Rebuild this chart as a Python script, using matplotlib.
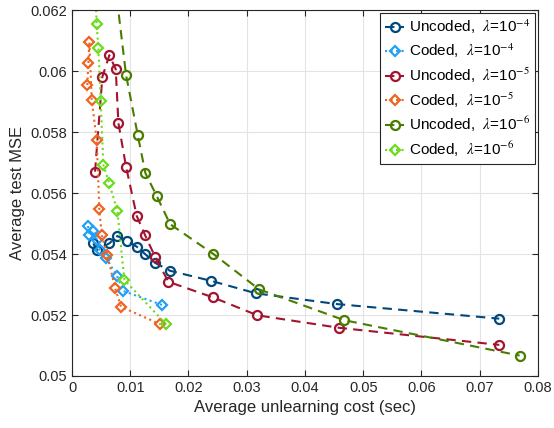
import numpy as np
import matplotlib
matplotlib.use('Agg')
import matplotlib.pyplot as plt

plt.rcParams['font.family'] = ['Liberation Sans', 'DejaVu Sans']
plt.rcParams['mathtext.fontset'] = 'stix'

# Uncoded, lambda = 1e-4
unc4_x = [0.00366, 0.00424, 0.00641, 0.00779, 0.0094, 0.01111, 0.01254, 0.01426,
          0.01684, 0.02388, 0.03162, 0.04542, 0.07337]
unc4_y = [0.05435, 0.05413, 0.05435, 0.05459, 0.05444, 0.05424, 0.05400, 0.05371,
          0.05345, 0.05312, 0.05271, 0.05236, 0.05188]
# Coded, lambda = 1e-4
cod4_x = [0.00275, 0.00292, 0.00361, 0.0043, 0.00481, 0.00584, 0.00773, 0.00876, 0.01546]
cod4_y = [0.05492, 0.05462, 0.05475, 0.05446, 0.05413, 0.05387, 0.05328, 0.05279, 0.05233]
# Uncoded, lambda = 1e-5
unc5_x = [0.00395, 0.00521, 0.00641, 0.00751, 0.00796, 0.00928, 0.01111, 0.01254,
          0.01426, 0.01655, 0.02417, 0.03184, 0.04588, 0.07337]
unc5_y = [0.05670, 0.05981, 0.06052, 0.06006, 0.05830, 0.05686, 0.05525, 0.05462,
          0.05391, 0.05309, 0.05258, 0.05199, 0.05158, 0.05102]
# Coded, lambda = 1e-5
cod5_x = [0.00263, 0.0028, 0.00298, 0.00338, 0.00424, 0.00469, 0.0051, 0.00607,
          0.00739, 0.00842, 0.01512]
cod5_y = [0.05954, 0.06025, 0.06096, 0.05905, 0.05774, 0.05547, 0.05462, 0.05397,
          0.05288, 0.05227, 0.05170]
# Uncoded, lambda = 1e-6
unc6_x = [0.0075, 0.00928, 0.01129, 0.0126, 0.01455, 0.01684, 0.02428, 0.03213,
          0.04674, 0.07686]
unc6_y = [0.06270, 0.05987, 0.05790, 0.05665, 0.05590, 0.05498, 0.05400, 0.05284,
          0.05183, 0.05067]
# Coded, lambda = 1e-6
cod6_x = [0.0040, 0.00424, 0.00452, 0.00493, 0.00538, 0.00636, 0.00778, 0.00899, 0.01615]
cod6_y = [0.06250, 0.06153, 0.06076, 0.05902, 0.05692, 0.05634, 0.05542, 0.05315, 0.05170]

series = [
    (unc4_x, unc4_y, 'o', (0, (4.5, 3)), '#00487D', r'Uncoded,  $\lambda$=10$^{-4}$'),
    (cod4_x, cod4_y, 'D', ':', '#22A0F5', r'Coded,  $\lambda$=10$^{-4}$'),
    (unc5_x, unc5_y, 'o', (0, (4.5, 3)), '#A2142F', r'Uncoded,  $\lambda$=10$^{-5}$'),
    (cod5_x, cod5_y, 'D', ':', '#EE6420', r'Coded,  $\lambda$=10$^{-5}$'),
    (unc6_x, unc6_y, 'o', (0, (4.5, 3)), '#4A7C00', r'Uncoded,  $\lambda$=10$^{-6}$'),
    (cod6_x, cod6_y, 'D', ':', '#6CDB1E', r'Coded,  $\lambda$=10$^{-6}$'),
]

fig = plt.figure(figsize=(5.54, 4.28), dpi=100)
ax = fig.add_axes([0.130, 0.1215, 0.841, 0.855])

for x, y, mk, ls, col, lab in series:
    ms = 6.5 if mk == 'o' else 5.5
    ax.plot(x, y, marker=mk, linestyle=ls, color=col, label=lab, linewidth=1.5,
            markersize=ms, markerfacecolor='none', markeredgewidth=1.6)

ax.set_xlim(0, 0.08)
ax.set_ylim(0.05, 0.062)
ax.set_xticks(np.arange(0, 0.081, 0.01))
ax.set_xticklabels(['0', '0.01', '0.02', '0.03', '0.04', '0.05', '0.06', '0.07', '0.08'])
ax.set_yticks(np.arange(0.05, 0.0621, 0.002))
ax.set_yticklabels(['0.05', '0.052', '0.054', '0.056', '0.058', '0.06', '0.062'])

ax.grid(True, color='#E3E3E3', linewidth=0.8)
ax.set_axisbelow(True)
ax.tick_params(direction='in', top=True, right=True, labelsize=10.5,
               colors='#262626', length=4)
for sp in ax.spines.values():
    sp.set_color('#262626')

ax.set_xlabel('Average unlearning cost (sec)', fontsize=12, color='#262626')
ax.set_ylabel('Average test MSE', fontsize=12, color='#262626')

leg = ax.legend(loc='upper right', fontsize=11, fancybox=False, framealpha=1,
                edgecolor='#262626', borderaxespad=0.2, handlelength=1.3,
                handletextpad=0.3, labelspacing=0.35, borderpad=0.3)
leg.get_frame().set_linewidth(0.8)

plt.savefig('out.png', dpi=100)
